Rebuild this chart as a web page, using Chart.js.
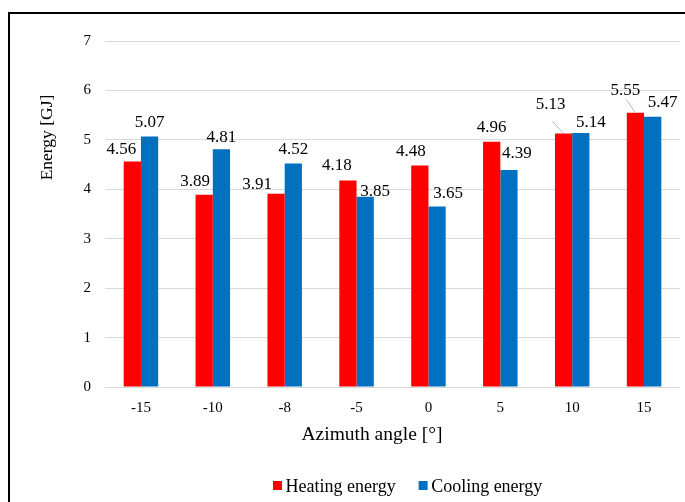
<!DOCTYPE html>
<html><head><meta charset="utf-8">
<script src="https://cdn.jsdelivr.net/npm/chart.js@4"></script>
<style>
html,body{margin:0;padding:0;background:#fff;overflow:hidden;}
#wrap{position:relative;width:685px;height:502px;}
#frame{position:absolute;left:8px;top:12px;width:700px;height:520px;border-left:2px solid #000;border-top:2px solid #000;box-sizing:border-box;pointer-events:none;}
canvas{position:absolute;left:0;top:0;}
</style></head><body>
<div id="wrap"><canvas id="c" width="685" height="502"></canvas><div id="frame"></div></div>
<script>
const categories = ['-15','-10','-8','-5','0','5','10','15'];
const heatingEnergy = [4.56, 3.89, 3.91, 4.18, 4.48, 4.96, 5.13, 5.55];
const coolingEnergy = [5.07, 4.81, 4.52, 3.85, 3.65, 4.39, 5.14, 5.47];
const yTickValues = [0, 1, 2, 3, 4, 5, 6, 7];
const seriesNames = ['Heating energy', 'Cooling energy'];
const seriesColors = ['#FF0000', '#0070C0'];
const axisTitleX = 'Azimuth angle [°]';
const axisTitleY = 'Energy [GJ]';

// label placement: [dx, dy] of label centre from bar-top centre, optional leader [sx, sy]
const heatLabelPos = [[-11,-12],[-9,-13],[-19,-9],[-11,-15],[-9,-14],[0,-14],[-13,-29,2,17],[-10,-22,1,9]];
const coolLabelPos = [[0,-14],[0,-12],[0,-14],[10,-5],[11,-13],[8,-16],[10,-10],[10,-14]];

const SERIF = '"Liberation Serif", "Times New Roman", serif';

const overlay = {
  id: 'overlay',
  afterDatasetsDraw(chart) {
    const ctx = chart.ctx;
    ctx.save();
    // data labels
    ctx.font = '17px ' + SERIF;
    ctx.fillStyle = '#000';
    ctx.textAlign = 'center';
    ctx.textBaseline = 'middle';
    [heatLabelPos, coolLabelPos].forEach((pos, di) => {
      const meta = chart.getDatasetMeta(di);
      meta.data.forEach((bar, i) => {
        const p = pos[i];
        const v = chart.data.datasets[di].data[i];
        const lx = bar.x + p[0], ly = bar.y + p[1];
        if (p.length > 2) {
          ctx.strokeStyle = '#a6a6a6';
          ctx.lineWidth = 0.8;
          ctx.beginPath();
          ctx.moveTo(lx + p[2], ly + p[3]);
          ctx.lineTo(bar.x, bar.y);
          ctx.stroke();
        }
        ctx.fillText(v.toFixed(2), lx, ly);
      });
    });
    // axis titles
    ctx.fillStyle = '#000';
    ctx.font = '19.5px ' + SERIF;
    ctx.textAlign = 'center';
    ctx.textBaseline = 'alphabetic';
    ctx.fillText(axisTitleX, 372, 440);
    ctx.save();
    ctx.translate(47, 137.5);
    ctx.rotate(-Math.PI / 2);
    ctx.font = '17.5px ' + SERIF;
    ctx.textBaseline = 'middle';
    ctx.fillText(axisTitleY, 0, 0);
    ctx.restore();
    // legend
    ctx.font = '18px ' + SERIF;
    ctx.textAlign = 'left';
    ctx.textBaseline = 'alphabetic';
    let x = 273;
    chart.data.datasets.forEach((ds, i) => {
      ctx.fillStyle = ds.backgroundColor;
      ctx.fillRect(x, 481, 9, 9);
      x += 12.5;
      ctx.fillStyle = '#000';
      ctx.fillText(ds.label, x, 492);
      x += ctx.measureText(ds.label).width + 23;
    });
    ctx.restore();
  }
};

new Chart(document.getElementById('c'), {
  type: 'bar',
  data: {
    labels: categories,
    datasets: [
      { label: seriesNames[0], data: heatingEnergy, backgroundColor: seriesColors[0], borderWidth: 0 },
      { label: seriesNames[1], data: coolingEnergy, backgroundColor: seriesColors[1], borderWidth: 0 }
    ]
  },
  options: {
    responsive: false,
    animation: false,
    devicePixelRatio: 1,
    layout: { padding: { left: 0, right: 5, top: 41, bottom: 0 } },
    datasets: { bar: { categoryPercentage: 0.48, barPercentage: 1.0 } },
    plugins: { legend: { display: false }, tooltip: { enabled: false }, title: { display: false } },
    scales: {
      x: {
        grid: { display: false, drawTicks: false },
        border: { display: false },
        ticks: { font: { family: SERIF, size: 15 }, color: '#000', padding: 12 },
        afterFit(s) { s.height = 115; }
      },
      y: {
        min: 0, max: 7,
        afterBuildTicks(s) { s.ticks = yTickValues.map(v => ({ value: v })); },
        grid: { color: '#D9D9D9', lineWidth: 1, drawTicks: false },
        border: { display: false },
        ticks: { font: { family: SERIF, size: 15 }, color: '#000', padding: 14 },
        afterFit(s) { s.width = 105; }
      }
    }
  },
  plugins: [overlay]
});
</script>
</body></html>
